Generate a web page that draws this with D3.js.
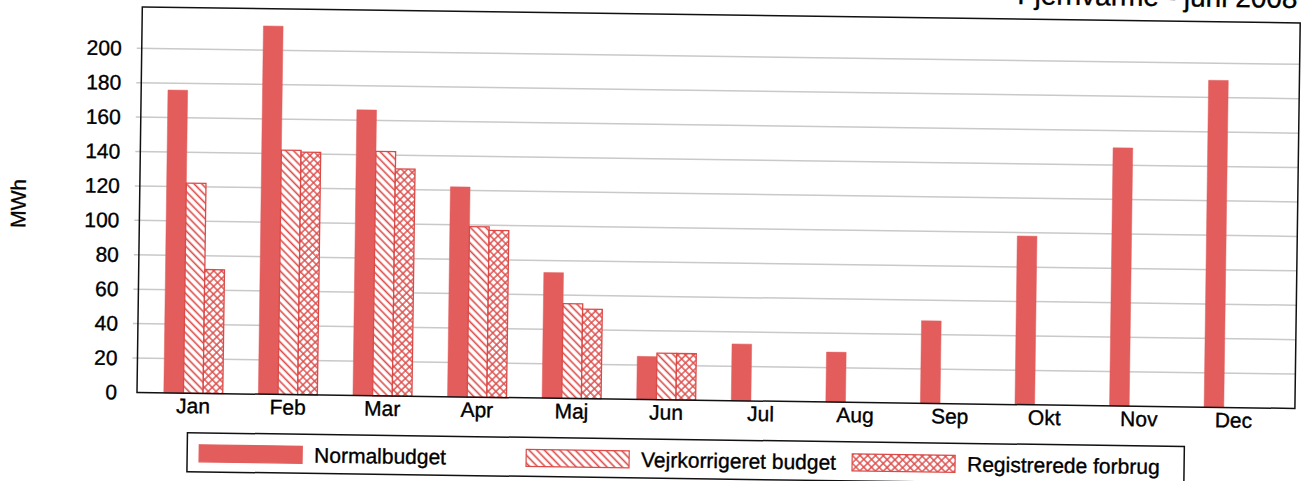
<!DOCTYPE html>
<html>
<head>
<meta charset="utf-8">
<script src="https://cdn.jsdelivr.net/npm/d3@7"></script>
<style>
  body { margin: 0; background: #fff; }
  svg { display: block; font-family: "Liberation Sans", Arial, sans-serif; }
  .ink { fill: #000; stroke: #000; stroke-width: 0.35; }
</style>
</head>
<body>
<div class="chart"></div>
<script>
var months = ["Jan", "Feb", "Mar", "Apr", "Maj", "Jun", "Jul", "Aug", "Sep", "Okt", "Nov", "Dec"];
var normalbudget = [176, 214, 166, 122, 73, 25, 33, 29, 48, 98, 150, 190];
var vejrkorrigeret = [122, 142, 142, 99, 55, 27, null, null, null, null, null, null];
var registreret = [72, 141, 132, 97, 52, 27, null, null, null, null, null, null];
var seriesNames = ["Normalbudget", "Vejrkorrigeret budget", "Registrerede forbrug"];
var yTicks = [0, 20, 40, 60, 80, 100, 120, 140, 160, 180, 200];
var yMax = 224;

var svgWidth = 1301;
var svgHeight = 481;

var frame = { left: 137, right: 1295, top: 7, bottom: 392.5 };

var svg = d3.select(".chart")
  .append("svg")
  .attr("width", svgWidth)
  .attr("height", svgHeight);

// patterns for the hatched bars
var defs = svg.append("defs");
var red = "#dc4a48";

var diag = defs.append("pattern")
  .attr("id", "diag")
  .attr("patternUnits", "userSpaceOnUse")
  .attr("width", 5.5)
  .attr("height", 5.5)
  .attr("patternTransform", "rotate(-45)");
diag.append("rect").attr("width", 5.5).attr("height", 5.5).attr("fill", "#fff");
diag.append("line")
  .attr("x1", 1.5).attr("y1", 0).attr("x2", 1.5).attr("y2", 5.5)
  .attr("stroke", red).attr("stroke-width", 1.6);

var cross = defs.append("pattern")
  .attr("id", "cross")
  .attr("patternUnits", "userSpaceOnUse")
  .attr("width", 5.5)
  .attr("height", 5.5)
  .attr("patternTransform", "rotate(45)");
cross.append("rect").attr("width", 5.5).attr("height", 5.5).attr("fill", "#fff");
cross.append("line")
  .attr("x1", 1).attr("y1", 0).attr("x2", 1).attr("y2", 5.5)
  .attr("stroke", red).attr("stroke-width", 1.4);
cross.append("line")
  .attr("x1", 0).attr("y1", 1).attr("x2", 5.5).attr("y2", 1)
  .attr("stroke", red).attr("stroke-width", 1.4);

var fills = ["#e25d5c", "url(#diag)", "url(#cross)"];
var strokes = ["#e25d5c", red, red];

// the scanned page is slightly tilted
var page = svg.append("g")
  .attr("transform", `rotate(0.79, ${frame.left}, ${frame.bottom})`);

var x0 = d3.scaleBand()
  .domain(months)
  .range([146, 1281]);

var x1 = d3.scaleBand()
  .domain(d3.range(3))
  .range([17.8, x0.bandwidth() - 17.8]);

var y = d3.scaleLinear()
  .domain([0, yMax])
  .range([frame.bottom, frame.top]);

// title (cut off at the top of the scan, as in the original)
page.append("text")
  .attr("class", "ink")
  .attr("x", 1292)
  .attr("y", -8)
  .attr("text-anchor", "end")
  .attr("font-size", 28)
  .text("Fjernvarme - juni 2008");

// gridlines
page.append("g")
  .selectAll("line")
  .data(yTicks.filter(d => d > 0))
  .enter()
  .append("line")
  .attr("x1", frame.left - 5)
  .attr("x2", frame.right)
  .attr("y1", d => y(d))
  .attr("y2", d => y(d))
  .attr("stroke", "#c9c9c9")
  .attr("stroke-width", 1.5);

// y axis labels
var leftAxis = d3.axisLeft(y)
  .tickValues(yTicks)
  .tickSize(0)
  .tickPadding(20);

var yAxis = page.append("g")
  .attr("transform", `translate(${frame.left}, 0)`)
  .call(leftAxis);
yAxis.select(".domain").remove();
yAxis.selectAll("text")
  .attr("class", "ink")
  .attr("font-size", 21)
  .attr("font-family", "Liberation Sans, Arial, sans-serif");

page.append("text")
  .attr("class", "ink")
  .attr("transform", `translate(23, 205) rotate(-90)`)
  .attr("text-anchor", "middle")
  .attr("font-size", 21)
  .text("MWh");

// bars
var table = months.map((m, i) => ({
  month: m,
  values: [normalbudget[i], vejrkorrigeret[i], registreret[i]]
}));

var groups = page.append("g")
  .selectAll("g")
  .data(table)
  .enter()
  .append("g")
  .attr("transform", d => `translate(${x0(d.month)}, 0)`);

groups.selectAll("rect")
  .data(d => d.values.map((v, k) => ({ k: k, v: v })).filter(e => e.v !== null))
  .enter()
  .append("rect")
  .attr("x", d => x1(d.k))
  .attr("width", x1.bandwidth())
  .attr("y", d => y(d.v))
  .attr("height", d => y(0) - y(d.v))
  .attr("fill", d => fills[d.k])
  .attr("stroke", d => strokes[d.k])
  .attr("stroke-width", d => d.k === 0 ? 0.5 : 1.3);

// plot frame
page.append("rect")
  .attr("x", frame.left)
  .attr("y", frame.top)
  .attr("width", frame.right - frame.left)
  .attr("height", frame.bottom - frame.top)
  .attr("fill", "none")
  .attr("stroke", "#111")
  .attr("stroke-width", 1.5);

// month labels
var bottomAxis = d3.axisBottom(x0)
  .tickSize(0)
  .tickPadding(5);

var xAxis = page.append("g")
  .attr("transform", `translate(0, ${frame.bottom})`)
  .call(bottomAxis);
xAxis.select(".domain").remove();
xAxis.selectAll("text")
  .attr("class", "ink")
  .attr("font-size", 21)
  .attr("font-family", "Liberation Sans, Arial, sans-serif");

// legend
var legend = page.append("g");
legend.append("rect")
  .attr("x", 188)
  .attr("y", 432)
  .attr("width", 997)
  .attr("height", 39)
  .attr("fill", "#fff")
  .attr("stroke", "#111")
  .attr("stroke-width", 1.5);

var legendX = [200, 527, 853];
var items = legend.selectAll("g.item")
  .data(seriesNames)
  .enter()
  .append("g")
  .attr("class", "item")
  .attr("transform", (d, i) => `translate(${legendX[i]}, 444)`);

items.append("rect")
  .attr("width", 103)
  .attr("height", 17)
  .attr("fill", (d, i) => fills[i])
  .attr("stroke", (d, i) => strokes[i])
  .attr("stroke-width", 1.2);

items.append("text")
  .attr("class", "ink")
  .attr("x", 115)
  .attr("y", 16)
  .attr("font-size", 21)
  .text(d => d);
</script>
</body>
</html>
